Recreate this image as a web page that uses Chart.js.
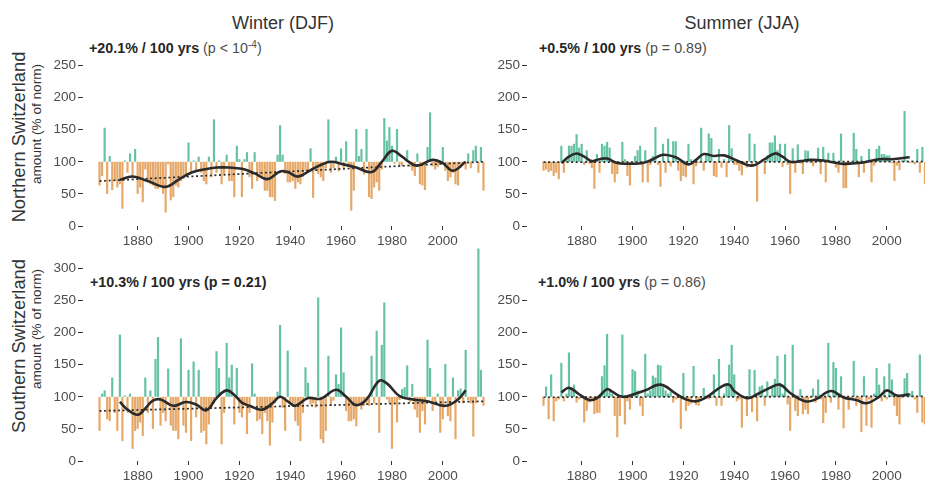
<!DOCTYPE html>
<html><head><meta charset="utf-8">
<script src="https://cdn.jsdelivr.net/npm/chart.js@4/dist/chart.umd.min.js"></script>
<style>
html,body{margin:0;padding:0;width:925px;height:482px;overflow:hidden;background:#fff;font-family:"Liberation Sans",Arial,Helvetica,sans-serif;}
canvas{position:absolute;}
.t{position:absolute;white-space:nowrap;line-height:1;color:#333;}
.c{transform:translate(-50%,-50%);}
.l{transform:translate(0,-50%);}
.r{transform:translate(-50%,-50%) rotate(-90deg);}
.ann{font-size:14.3px;color:#4d4d4d;}
.ann b{color:#262626;}
</style></head><body>
<div class="t c" style="left:283px;top:23px;font-size:18px;">Winter (DJF)</div>
<div class="t c" style="left:742px;top:23px;font-size:18px;">Summer (JJA)</div>
<div class="t l ann" style="left:89px;top:48px;"><b>+20.1% / 100 yrs</b> (p &lt; 10<span style="font-size:10px;position:relative;top:-5px;">-4</span>)</div>
<div class="t l ann" style="left:539px;top:48px;"><b>+0.5% / 100 yrs</b> (p = 0.89)</div>
<div class="t l ann" style="left:90px;top:282px;"><b>+10.3% / 100 yrs (p = 0.21)</b></div>
<div class="t l ann" style="left:538px;top:282px;"><b>+1.0% / 100 yrs</b> (p = 0.86)</div>
<div class="t r" style="left:18.5px;top:137px;font-size:18.3px;">Northern Switzerland</div>
<div class="t r" style="left:36.5px;top:124px;font-size:13.6px;">amount (% of norm)</div>
<div class="t r" style="left:18.5px;top:346px;font-size:18.3px;">Southern Switzerland</div>
<div class="t r" style="left:36.5px;top:329px;font-size:13.6px;">amount (% of norm)</div>

<canvas id="nw" width="467" height="204" style="left:33px;top:52px;"></canvas>
<canvas id="ns" width="467" height="204" style="left:477px;top:52px;"></canvas>
<canvas id="sw" width="467" height="236" style="left:33px;top:246px;"></canvas>
<canvas id="ss" width="467" height="236" style="left:477px;top:246px;"></canvas>

<script>
// ---- data (percent of norm), one value per year starting at startYear ----
const startYear = 1865;
const xTickYears = [1880, 1900, 1920, 1940, 1960, 1980, 2000];
const yTicksNorth = [0, 50, 100, 150, 200, 250];
const yTicksSouthWinter = [0, 50, 100, 150, 200, 250, 300];
const yTicksSouthSummer = [0, 50, 100, 150, 200, 250];

const northWinter = [
 63,78,153,50,109,56,70,60,65,27,
 102,83,113,78,120,50,60,37,88,68,
 65,63,58,58,62,50,21,96,40,45,
 63,60,70,73,81,130,83,102,86,108,
 83,70,65,108,76,166,83,102,65,81,
 111,70,70,45,125,104,45,104,115,76,
 58,115,70,76,76,55,55,45,45,39,
 111,157,111,81,68,68,70,58,68,65,
 76,86,86,121,44,86,81,76,70,90,
 166,83,90,108,85,121,90,132,95,24,
 55,151,109,120,80,151,45,42,60,68,
 55,88,168,133,154,125,97,151,95,93,
 100,118,92,86,78,113,65,63,56,123,
 177,93,88,92,95,123,86,70,76,83,
 65,63,91,95,88,113,90,118,125,83,
 123,55];

const northSummer = [
 86,88,84,86,78,83,73,125,83,105,
 125,125,128,143,122,128,95,118,97,90,
 58,112,83,128,125,131,122,81,68,81,
 96,131,104,78,63,95,109,118,125,68,
 118,68,95,109,154,95,61,128,83,136,
 93,132,132,86,70,78,76,128,104,65,
 93,98,153,86,112,144,137,78,76,120,
 91,104,76,157,121,95,95,86,79,95,
 91,144,94,128,38,98,104,81,110,130,
 130,141,118,128,92,128,95,50,121,83,
 127,97,81,118,117,98,93,98,122,81,
 123,68,114,98,114,91,83,144,59,59,
 98,98,145,120,76,109,83,98,120,68,
 94,120,125,112,112,110,110,98,70,94,
 87,102,179,102,98,102,96,120,83,123,
 65,102];

const southWinter = [
 47,105,110,65,62,130,75,47,197,31,
 102,75,105,19,47,50,60,39,130,75,
 110,50,159,193,55,75,62,144,55,47,
 47,34,191,55,44,142,31,155,68,142,
 44,47,26,57,83,90,171,145,26,75,
 184,130,150,57,145,75,68,90,42,75,
 152,105,62,65,42,75,62,24,60,90,
 108,212,83,47,172,91,86,62,55,31,
 75,146,122,88,90,83,255,34,28,47,
 164,86,94,135,120,208,138,78,62,62,
 65,54,90,80,86,90,86,164,90,203,
 44,181,247,96,90,19,90,60,95,112,
 115,149,91,120,80,68,44,78,57,189,
 145,78,90,105,44,65,151,70,62,130,
 34,110,113,90,173,95,90,38,90,331,
 142,86];

const southSummer = [
 86,116,65,135,62,93,96,153,93,105,
 169,110,119,91,96,98,60,78,91,96,
 73,75,75,132,149,198,110,105,70,37,
 70,197,57,93,80,143,140,110,86,70,
 167,105,110,133,130,150,149,115,110,105,
 108,91,96,98,50,137,78,86,89,148,
 87,86,98,114,102,96,98,135,86,159,
 86,105,119,150,181,135,93,96,52,98,
 70,143,76,142,62,116,118,86,124,98,
 114,128,164,122,105,166,88,47,181,78,
 70,112,73,80,73,98,113,91,127,96,
 59,75,184,91,154,145,80,132,51,96,
 80,96,156,86,95,45,132,55,96,52,
 105,145,119,93,132,96,152,127,86,70,
 57,98,129,137,105,109,96,75,166,60,
 57,102];

// smoothed curves (read at selected years)
const smoothNorthWinterYears = [1873,1878,1884,1891,1896,1901,1906,1911,1916,1921,1926,1931,1936,1939,1943,1948,1952,1956,1961,1966,1972,1976,1980,1984,1987,1990,1996,2000,2004,2009];
const smoothNorthWinter = [72,77,70,61,72,83,88,91,91,89,82,73,85,84,77,87,95,100,96,91,84,100,117,108,99,94,103,98,86,100];

const smoothNorthSummerYears = [1872,1875,1878,1881,1884,1887,1890,1894,1899,1904,1908,1912,1917,1922,1925,1928,1932,1936,1941,1947,1952,1956,1959,1962,1966,1970,1975,1982,1989,1997,2002,2009];
const smoothNorthSummer = [98,108,113,108,101,104,105,98,97,98,104,111,107,96,103,112,109,110,102,94,104,113,108,100,101,103,102,97,98,104,104,107];

const smoothSouthWinterYears = [1873,1876,1880,1883,1886,1889,1894,1899,1903,1907,1911,1915,1918,1921,1924,1929,1933,1936,1939,1942,1947,1952,1958,1962,1966,1970,1975,1978,1983,1988,1994,2001,2006,2009];
const smoothSouthWinter = [92,80,72,82,94,96,86,92,88,79,98,110,103,91,86,80,90,100,93,86,98,97,111,100,87,96,125,121,101,96,93,86,96,110];

const smoothSouthSummerYears = [1872,1875,1879,1883,1886,1890,1892,1896,1902,1905,1911,1917,1921,1925,1929,1935,1938,1940,1945,1949,1954,1958,1962,1968,1972,1978,1983,1988,1992,1997,2000,2004,2009];
const smoothSouthSummer = [107,114,104,95,98,112,108,100,106,110,119,105,96,93,99,116,119,109,98,104,114,119,106,93,96,109,99,95,90,100,110,102,104];

// linear trend lines (end points)
const trendYears = [1865, 2016];
const trendNorthWinter = [70, 100];
const trendNorthSummer = [99.5, 100.3];
const trendSouthWinter = [78, 93];
const trendSouthSummer = [99.3, 100.8];

// ---- drawing ----
const GREEN = '#66c2a5', ORANGE = '#e6a868', LINE = '#2a2a2a';
const X_MIN = 1858.5, X_MAX = 2022.5;
Chart.defaults.font.family = '"Liberation Sans", Arial, Helvetica, sans-serif';

function pts(xs, ys) { return xs.map((x, i) => ({ x: x, y: ys[i] })); }

function makePanel(id, values, sYears, sVals, tVals, yMax, yTicks, xAxisH) {
  const bars = values.map((v, i) => ({ x: startYear + i, y: [100, v] }));
  const colors = values.map(v => v >= 100 ? GREEN : ORANGE);
  new Chart(document.getElementById(id), {
    type: 'bar',
    data: {
      datasets: [
        { type: 'line', data: pts(sYears, sVals), borderColor: LINE, borderWidth: 2.6,
          pointRadius: 0, tension: 0.4, fill: false, order: 0 },
        { type: 'line', data: pts(trendYears, tVals), borderColor: LINE, borderWidth: 1.7,
          borderDash: [2, 2.6], pointRadius: 0, fill: false, order: 1 },
        { type: 'bar', data: bars, backgroundColor: colors, borderWidth: 0,
          barPercentage: 0.86, categoryPercentage: 1, order: 2 }
      ]
    },
    options: {
      responsive: false, animation: false, devicePixelRatio: 1,
      layout: { padding: 0 },
      plugins: { legend: { display: false }, tooltip: { enabled: false }, title: { display: false } },
      scales: {
        x: {
          type: 'linear', min: X_MIN, max: X_MAX, offset: false,
          afterBuildTicks: s => { s.ticks = xTickYears.map(v => ({ value: v })); },
          afterFit: s => { s.height = xAxisH; s.paddingLeft = 0; s.paddingRight = 0; },
          ticks: { font: { size: 13.5 }, color: '#4d4d4d', padding: 3, maxRotation: 0, autoSkip: false,
                   callback: v => String(v) },
          grid: { display: true, drawOnChartArea: false, drawTicks: true, tickLength: 4,
                  color: '#333', lineWidth: 1, offset: false },
          border: { display: false }
        },
        y: {
          type: 'linear', min: 0, max: yMax,
          afterBuildTicks: s => { s.ticks = yTicks.map(v => ({ value: v })); },
          afterFit: s => { s.width = 50; s.paddingTop = 0; s.paddingBottom = 0; },
          ticks: { font: { size: 13.5 }, color: '#4d4d4d', padding: 2, callback: v => String(v) },
          grid: { display: true, drawOnChartArea: false, drawTicks: true, tickLength: 5,
                  color: '#333', lineWidth: 1 },
          border: { display: false }
        }
      }
    }
  });
}

makePanel('nw', northWinter, smoothNorthWinterYears, smoothNorthWinter, trendNorthWinter, 271, yTicksNorth, 30);
makePanel('ns', northSummer, smoothNorthSummerYears, smoothNorthSummer, trendNorthSummer, 271, yTicksNorth, 30);
makePanel('sw', southWinter, smoothSouthWinterYears, smoothSouthWinter, trendSouthWinter, 335, yTicksSouthWinter, 21);
makePanel('ss', southSummer, smoothSouthSummerYears, smoothSouthSummer, trendSouthSummer, 335, yTicksSouthSummer, 21);
</script>
</body></html>
